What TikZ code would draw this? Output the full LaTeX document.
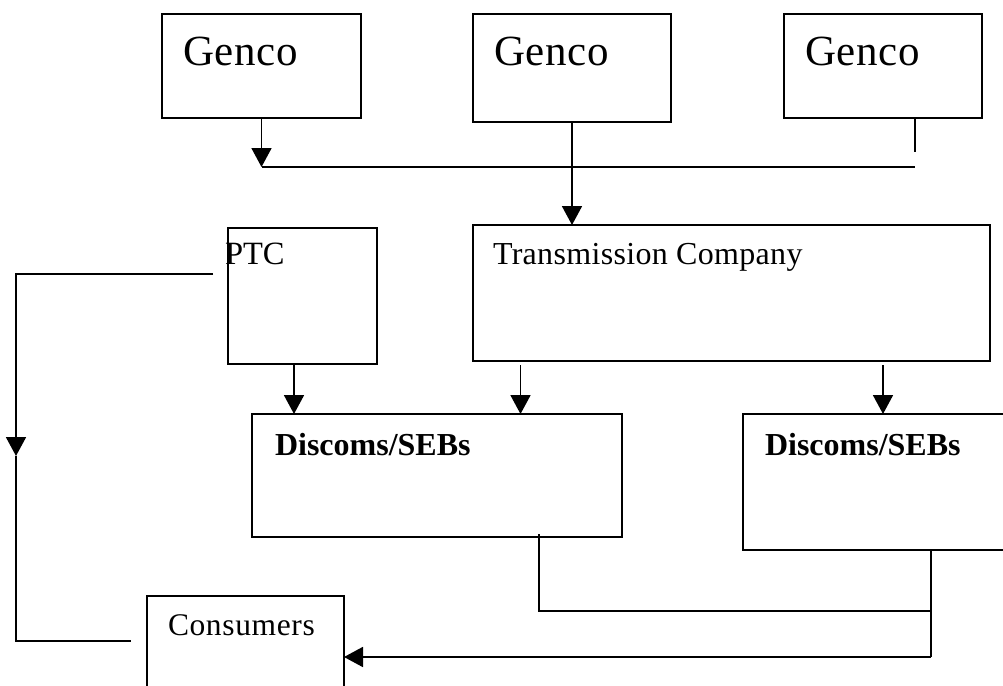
\documentclass[tikz,border=0pt]{standalone}
\usepackage{fontspec}
\setmainfont{Liberation Serif}
\usetikzlibrary{arrows.meta}
\begin{document}
\begin{tikzpicture}[x=1pt,y=-1pt,
  box/.style={draw, line width=1.8pt, inner sep=0pt, outer sep=0pt, anchor=north west},
  conn/.style={line width=1.8pt},
  arr/.style={conn, -{Triangle[length=19pt,width=20pt]}},
  lbl/.style={anchor=base west, inner sep=0pt, outer sep=0pt}]
\useasboundingbox (0,0) rectangle (1003,685);
\clip (0,0) rectangle (1003,685);
% boxes
\node[box, minimum width=199pt, minimum height=104pt] (g1) at (162,14) {};
\node[box, minimum width=198pt, minimum height=108pt] (g2) at (473,14) {};
\node[box, minimum width=198pt, minimum height=104pt] (g3) at (784,14) {};
\node[box, minimum width=149pt, minimum height=136pt] (ptc) at (228,228) {};
\node[box, minimum width=517pt, minimum height=136pt] (tc) at (473,225) {};
\node[box, minimum width=370pt, minimum height=123pt] (d1) at (252,414) {};
\node[box, minimum width=300pt, minimum height=136pt] (d2) at (743,414) {};
\node[box, minimum width=197pt, minimum height=130pt] (cons) at (147,596) {};
% labels
\node[lbl, font=\fontsize{43}{50}\selectfont\addfontfeatures{LetterSpace=1.5}] (tg1) at (183,65) {Genco};
\node[lbl, font=\fontsize{43}{50}\selectfont\addfontfeatures{LetterSpace=1.5}] (tg2) at (494,65) {Genco};
\node[lbl, font=\fontsize{43}{50}\selectfont\addfontfeatures{LetterSpace=1.5}] (tg3) at (805,65) {Genco};
\node[lbl, font=\fontsize{32.5}{38}\selectfont] (tptc) at (225,264) {PTC};
\node[lbl, font=\fontsize{32}{38}\selectfont\addfontfeatures{LetterSpace=1}] (ttc) at (493,264) {Transmission Company};
\node[lbl, font=\fontsize{32}{38}\selectfont\bfseries] (td1) at (275,455) {Discoms/SEBs};
\node[lbl, font=\fontsize{32}{38}\selectfont\bfseries] (td2) at (765,455) {Discoms/SEBs};
\node[lbl, font=\fontsize{31.5}{38}\selectfont\addfontfeatures{LetterSpace=2}] (tcons) at (168,635) {Consumers};
% coordinates
\coordinate (j1) at (261.5,167);
\coordinate (j2) at (915,167);
\coordinate (p1) at (213,274);
\coordinate (p2) at (16,274);
\coordinate (p3) at (16,456);
\coordinate (p4) at (16,641);
\coordinate (p5) at (131,641);
\coordinate (t1) at (520.5,365);
\coordinate (t2) at (883,365);
\coordinate (b1) at (539,534);
\coordinate (b2) at (539,611);
\coordinate (b3) at (931,611);
\coordinate (c2) at (931,657);
% connectors
\draw[arr] (g1.south) -- (j1);
\draw[conn] (j1) -- (j2);
\draw[conn] (g3.south -| j2) -- ++(0,34);
\draw[arr] (g2.south) -- (g2.south |- tc.north);
\draw[arr] (p1) -- (p2) -- (p3);
\draw[conn] (p3) -- (p4) -- (p5);
\draw[arr] ([xshift=-8.5pt]ptc.south) -- ([xshift=-8.5pt]ptc.south |- d1.north);
\draw[arr] (t1) -- (t1 |- d1.north);
\draw[arr] (t2) -- (t2 |- d2.north);
\draw[conn] (b1) -- (b2) -- (b3);
\draw[conn] (b3 |- d2.south) -- (c2);
\draw[arr] (c2) -- (c2 -| cons.east);
\end{tikzpicture}
\end{document}
